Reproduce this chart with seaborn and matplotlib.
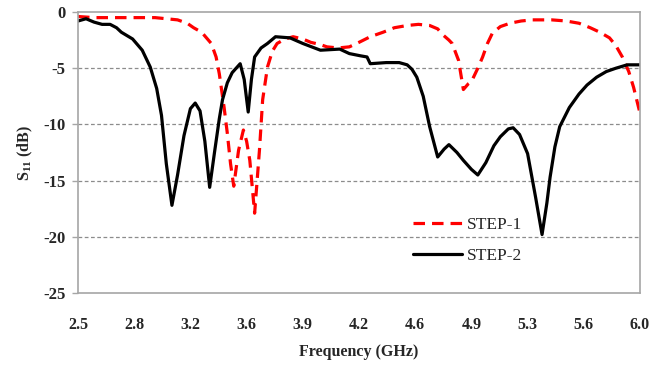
import matplotlib
matplotlib.use("Agg")
import matplotlib.pyplot as plt
import seaborn as sns
import pandas as pd

# Measured reflection coefficient S11 (dB) versus frequency (GHz)
freq_step1 = [2.50, 2.60, 2.70, 2.80, 2.90, 2.98, 3.05, 3.12, 3.18, 3.22, 3.27, 3.30,
              3.33, 3.36, 3.38, 3.41, 3.43, 3.45, 3.47, 3.50, 3.53, 3.55, 3.57, 3.60,
              3.63, 3.65, 3.68, 3.71, 3.74, 3.79, 3.84, 3.90, 3.95, 4.01, 4.05, 4.12,
              4.19, 4.25, 4.32, 4.40, 4.47, 4.55, 4.62, 4.69, 4.74, 4.77, 4.81, 4.83,
              4.87, 4.90, 4.93, 4.95, 4.99, 5.02, 5.05, 5.08, 5.13, 5.19, 5.26, 5.33,
              5.45, 5.54, 5.62, 5.69, 5.75, 5.81, 5.85, 5.89, 5.93, 5.96, 6.00]
s11_step1 = [-0.4, -0.5, -0.5, -0.5, -0.5, -0.5, -0.6, -0.7, -1.0, -1.4, -1.8, -2.3,
             -2.8, -4.0, -5.5, -8.5, -10.8, -13.5, -15.5, -12.3, -10.5, -11.5, -13.2, -17.9,
             -12.3, -7.8, -4.9, -3.5, -2.8, -2.4, -2.2, -2.4, -2.7, -2.9, -3.1, -3.2,
             -3.1, -2.7, -2.2, -1.8, -1.4, -1.2, -1.1, -1.2, -1.5, -2.0, -2.5, -2.8,
             -4.3, -6.9, -6.4, -6.2, -5.0, -4.0, -2.8, -1.9, -1.3, -1.0, -0.8, -0.7,
             -0.7, -0.8, -1.0, -1.4, -1.8, -2.3, -3.0, -4.0, -5.3, -6.7, -9.0]

freq_step2 = [2.50, 2.55, 2.60, 2.65, 2.70, 2.74, 2.77, 2.84, 2.90, 2.95, 2.99, 3.02,
              3.05, 3.085, 3.12, 3.16, 3.20, 3.23, 3.26, 3.29, 3.32, 3.35, 3.38, 3.40,
              3.43, 3.46, 3.51, 3.535, 3.56, 3.58, 3.60, 3.64, 3.68, 3.73, 3.82, 3.90,
              4.01, 4.13, 4.19, 4.26, 4.30, 4.32, 4.42, 4.50, 4.55, 4.58, 4.61, 4.65,
              4.69, 4.74, 4.78, 4.81, 4.86, 4.90, 4.95, 4.99, 5.04, 5.09, 5.13, 5.18,
              5.21, 5.25, 5.30, 5.35, 5.39, 5.42, 5.44, 5.47, 5.50, 5.56, 5.62, 5.67,
              5.73, 5.79, 5.85, 5.92, 6.00]
s11_step2 = [-0.8, -0.6, -0.9, -1.1, -1.1, -1.4, -1.8, -2.4, -3.4, -4.9, -6.8, -9.2,
             -13.5, -17.2, -14.5, -11.0, -8.6, -8.1, -8.8, -11.5, -15.6, -12.5, -9.5, -7.8,
             -6.3, -5.4, -4.6, -6.0, -8.9, -6.0, -4.0, -3.2, -2.8, -2.2, -2.3, -2.8,
             -3.4, -3.3, -3.7, -3.9, -4.0, -4.6, -4.5, -4.5, -4.7, -5.1, -5.8, -7.5,
             -10.2, -12.9, -12.2, -11.8, -12.5, -13.2, -14.0, -14.5, -13.4, -11.9, -11.1, -10.4,
             -10.3, -10.9, -12.6, -16.5, -19.8, -17.0, -14.7, -12.0, -10.2, -8.5, -7.3, -6.5,
             -5.8, -5.3, -5.0, -4.7, -4.7]

tick_freqs = [2.5, 2.85, 3.2, 3.55, 3.9, 4.25, 4.6, 4.95, 5.3, 5.65, 6.0]
tick_labels = ["2.5", "2.8", "3.2", "3.6", "3.9", "4.2", "4.6", "4.9", "5.3", "5.6", "6.0"]
y_ticks = [0, -5, -10, -15, -20, -25]

df1 = pd.DataFrame({"freq": freq_step1, "s11": s11_step1})
df2 = pd.DataFrame({"freq": freq_step2, "s11": s11_step2})

sns.set_theme(style="white")
plt.rcParams["font.family"] = ["Liberation Serif", "DejaVu Serif"]
plt.rcParams["mathtext.default"] = "regular"

fig = plt.figure(figsize=(6.52, 3.69), dpi=100)
ax = fig.add_axes([78 / 652, 1 - 293 / 369, (640 - 78) / 652, (293 - 12) / 369])

sns.lineplot(data=df1, x="freq", y="s11", ax=ax, color="#FF0000", lw=2.3,
             estimator=None, sort=False, label="STEP-1", dashes=False)
ax.lines[-1].set_dashes((3.6, 2.2))
sns.lineplot(data=df2, x="freq", y="s11", ax=ax, color="black", lw=2.3,
             estimator=None, sort=False, label="STEP-2")

ax.set_xlim(2.5, 6.0)
ax.set_ylim(-25, 0)
ax.set_xticks(tick_freqs)
ax.set_xticklabels(tick_labels)
ax.set_yticks(y_ticks)
ax.set_yticklabels([str(v) for v in y_ticks])

for y in [-5, -10, -15, -20]:
    ax.axhline(y, color="#8C8C8C", lw=0.9, ls=(0, (3, 2)), zorder=0)

for s in ax.spines.values():
    s.set_color("#A6A6A6")
    s.set_linewidth(1.2)

ax.tick_params(axis="x", length=0, pad=17, labelsize=11.5)
ax.tick_params(axis="y", length=4, width=1, color="#A6A6A6", direction="out",
               pad=5, labelsize=12, left=True)
for lab in ax.get_xticklabels() + ax.get_yticklabels():
    lab.set_fontweight("bold")

ax.set_xlabel("Frequency (GHz)", fontsize=11.5, fontweight="bold", labelpad=8)
ax.set_ylabel("S$_{11}$ (dB)", fontsize=11.5, fontweight="bold", labelpad=6)

leg = ax.legend(loc="upper left", bbox_to_anchor=(0.596, 0.272), frameon=False,
                handlelength=2.8, handletextpad=0.3, labelspacing=0.85,
                borderpad=0, borderaxespad=0, prop={"size": 12.5})

fig.savefig("out.png", dpi=100)
